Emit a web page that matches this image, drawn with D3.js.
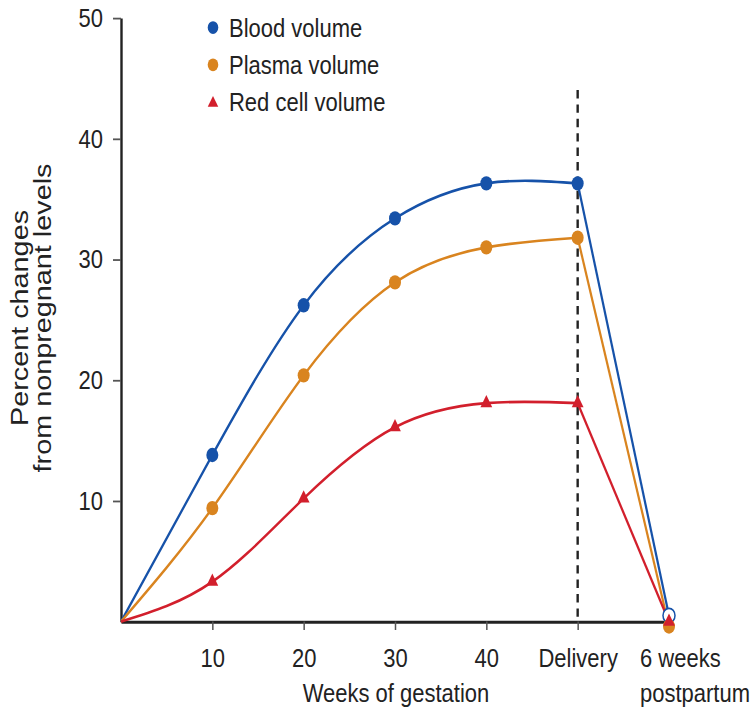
<!DOCTYPE html>
<html>
<head>
<meta charset="utf-8">
<script src="https://cdn.jsdelivr.net/npm/d3@7"></script>
<style>
  body { margin: 0; background: #fff; }
  svg { display: block; font-family: "Liberation Sans", Arial, sans-serif; }
</style>
</head>
<body>
<svg id="chart" width="752" height="715"></svg>
<script>
// x positions: 0 = start, 10..40 weeks, 50 = delivery, 60 = 6 weeks postpartum
const positions = [0, 10, 20, 30, 40, 50, 60];
const tickValues = [10, 20, 30, 40, 50];
const tickLabels = ["10", "20", "30", "40", "Delivery"];
const yTicks = [10, 20, 30, 40, 50];

const bloodVolume = [0, 13.8, 26.2, 33.4, 36.3, 36.3, 0.5];
const plasmaVolume = [0, 9.4, 20.4, 28.1, 31.0, 31.8, -0.4];
const redCellVolume = [0, 3.3, 10.2, 16.1, 18.1, 18.1, 0.0];

const seriesNames = ["Blood volume", "Plasma volume", "Red cell volume"];
const seriesColors = ["#1652a9", "#d9841f", "#d21f2c"];

//the source picture is stretched vertically, so draw inside a scaled group
const stretch = 1.2;

const x = d3.scaleLinear().domain([0, 60]).range([121, 669]);
const y = d3.scaleLinear().domain([0, 50]).range([518, 15]);

const svg = d3.select("#chart");
const g = svg.append("g").attr("transform", `scale(1,${stretch})`);

//axes
const yAxis = g.append("g")
  .attr("transform", `translate(${x(0)},0)`)
  .call(d3.axisLeft(y).tickValues(yTicks).tickSize(8).tickSizeOuter(0).tickPadding(10));

const xAxis = g.append("g")
  .attr("transform", `translate(0,${y(0)})`)
  .call(d3.axisBottom(x).tickValues(tickValues).tickSize(7).tickSizeOuter(0)
    .tickFormat((d, i) => tickLabels[i]));

[xAxis, yAxis].forEach(function (a) {
  a.select(".domain").attr("stroke", "#222").attr("stroke-width", 2.4);
  a.selectAll(".tick line").attr("stroke", "#555").attr("stroke-width", 1.5);
  a.selectAll("text").attr("fill", "#222").style("font-size", "22px");
});
xAxis.selectAll("text").attr("y", 38).attr("dy", 0);

//6 weeks postpartum label
g.append("text")
  .attr("x", 640)
  .attr("y", y(0) + 38)
  .attr("fill", "#222")
  .style("font-size", "22px")
  .selectAll("tspan")
  .data(["6 weeks", "postpartum"])
  .join("tspan")
  .attr("x", 640)
  .attr("dy", (d, i) => i === 0 ? 0 : 29)
  .text(d => d);

g.append("text")
  .attr("x", 396)
  .attr("y", 585)
  .attr("text-anchor", "middle")
  .attr("fill", "#222")
  .style("font-size", "22px")
  .text("Weeks of gestation");

g.append("text")
  .attr("transform", `translate(0,265) rotate(-90)`)
  .attr("text-anchor", "middle")
  .attr("fill", "#222")
  .style("font-size", "24px")
  .selectAll("tspan")
  .data(["Percent changes", "from nonpregnant levels"])
  .join("tspan")
  .attr("x", 0)
  .attr("y", (d, i) => i === 0 ? 28 : 51)
  .text(d => d);

//delivery dashed line
g.append("line")
  .attr("x1", x(50)).attr("x2", x(50))
  .attr("y1", 75).attr("y2", y(0))
  .attr("stroke", "#222")
  .attr("stroke-width", 2.4)
  .attr("stroke-dasharray", "7,5");

const series = [bloodVolume, plasmaVolume, redCellVolume];

const curve = d3.line()
  .x((d, i) => x(positions[i]))
  .y(d => y(d))
  .curve(d3.curveNatural);

const straight = d3.line()
  .x(d => x(d[0]))
  .y(d => y(d[1]));

series.forEach(function (values, s) {
  //smooth part up to delivery
  g.append("path")
    .attr("d", curve(values.slice(0, 6)))
    .attr("fill", "none")
    .attr("stroke", seriesColors[s])
    .attr("stroke-width", 2.2);
  //straight drop after delivery
  g.append("path")
    .attr("d", straight([[50, values[5]], [60, values[6]]]))
    .attr("fill", "none")
    .attr("stroke", seriesColors[s])
    .attr("stroke-width", 2.2);
});

const triangle = d3.symbol().type(d3.symbolTriangle).size(60);

//markers (drawn blue, orange, red so red sits on top at 6 weeks)
series.forEach(function (values, s) {
  const pts = values.map((v, i) => [positions[i], v]).slice(1);
  if (s === 2) {
    g.append("g").selectAll("path")
      .data(pts)
      .join("path")
      .attr("d", triangle)
      .attr("transform", d => `translate(${x(d[0])},${y(d[1])})`)
      .attr("fill", seriesColors[s]);
  } else {
    g.append("g").selectAll("circle")
      .data(pts)
      .join("circle")
      .attr("cx", d => x(d[0]))
      .attr("cy", d => y(d[1]))
      .attr("r", 6)
      .attr("fill", (d) => (s === 0 && d[0] === 60) ? "#fff" : seriesColors[s])
      .attr("stroke", seriesColors[s])
      .attr("stroke-width", (d) => (s === 0 && d[0] === 60) ? 1.5 : 0);
  }
});

//legend
const legend = g.append("g");
const legendRows = [23, 54, 85];
seriesNames.forEach(function (name, i) {
  if (i === 2) {
    legend.append("path")
      .attr("d", d3.symbol().type(d3.symbolTriangle).size(48)())
      .attr("transform", `translate(213,${legendRows[i] + 1})`)
      .attr("fill", seriesColors[i]);
  } else {
    legend.append("circle")
      .attr("cx", 213).attr("cy", legendRows[i])
      .attr("r", 5.3)
      .attr("fill", seriesColors[i]);
  }
  legend.append("text")
    .attr("x", 229)
    .attr("y", legendRows[i] + 7.5)
    .attr("fill", "#222")
    .style("font-size", "22px")
    .text(name);
});
</script>
</body>
</html>
